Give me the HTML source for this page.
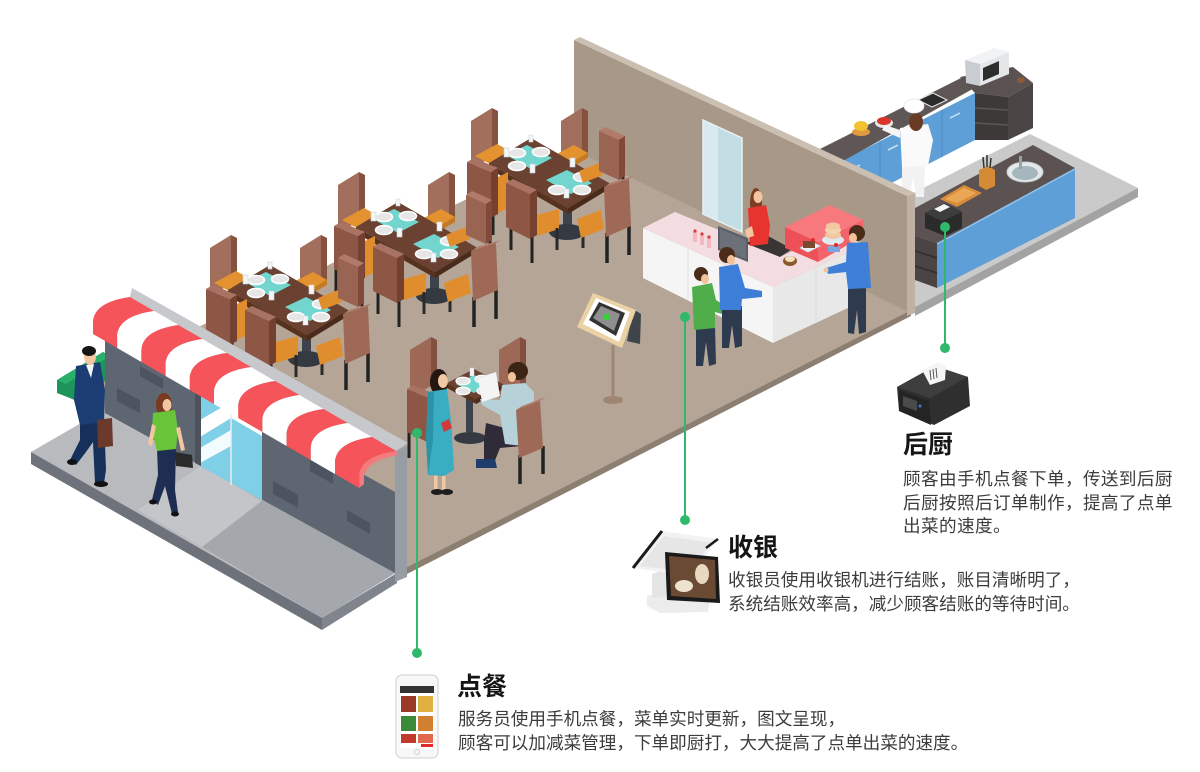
<!DOCTYPE html>
<html><head><meta charset="utf-8">
<style>
html,body{margin:0;padding:0;background:#fff;}
#wrap{position:relative;width:1200px;height:772px;overflow:hidden;background:#fff;}
svg{position:absolute;left:0;top:0;}
.t{position:absolute;font-family:"Liberation Sans","Noto Sans CJK SC",sans-serif;white-space:nowrap;}
.h{font-size:25px;line-height:25px;font-weight:700;color:#151515;}
.d{font-size:17.6px;line-height:23.5px;color:#3c3c3c;}
</style></head>
<body><div id="wrap">
<svg width="1200" height="772" viewBox="0 0 1200 772" xmlns="http://www.w3.org/2000/svg">
<defs>
<g id="ts">
  <!-- back-left chair -->
  <polygon points="210,248 231,235 231,284 210,296" fill="#a36f5d"/>
  <polygon points="231,235 237,238 237,281 231,284" fill="#86523f"/>
  <polygon points="214,283 236,271 251,279 229,291" fill="#e3922f"/>
  <polygon points="229,291 251,279 251,284 229,296" fill="#c47a22"/>
  <!-- back-right chair -->
  <polygon points="300,248 321,235 321,284 300,296" fill="#a36f5d"/>
  <polygon points="321,235 327,238 327,281 321,284" fill="#86523f"/>
  <polygon points="292,283 313,272 327,280 306,292" fill="#e3922f"/>
  <polygon points="306,292 327,280 327,285 306,297" fill="#c47a22"/>
  <!-- table -->
  <rect x="302" y="338" width="9" height="18" fill="#3d434c"/>
  <ellipse cx="306" cy="359" rx="18" ry="8" fill="#353a42"/>
  <polygon points="228,290 270,265 348,310 307,335" fill="#6b4131"/>
  <polygon points="228,290 307,335 307,341 228,296" fill="#57331f"/>
  <polygon points="307,335 348,310 348,316 307,341" fill="#4a2b1b"/>
  <polygon points="245,282 266,272 291,285 270,296" fill="#72d6cf"/>
  <polygon points="285,307 306,297 331,310 310,321" fill="#72d6cf"/>
  <g fill="#e6e6e6" stroke="#fff" stroke-width="1.5">
    <ellipse cx="256" cy="280" rx="8.5" ry="4.5"/>
    <ellipse cx="280" cy="279" rx="8.5" ry="4.5"/>
    <ellipse cx="256" cy="293" rx="8.5" ry="4.5"/>
    <ellipse cx="321" cy="304" rx="8.5" ry="4.5"/>
    <ellipse cx="296" cy="317" rx="8.5" ry="4.5"/>
    <ellipse cx="321" cy="317" rx="8.5" ry="4.5"/>
  </g>
  <g fill="#f6f6f6" stroke="#c9d2de" stroke-width="0.6">
    <rect x="243" y="275" width="5" height="9"/>
    <rect x="269" y="291" width="5" height="9"/>
    <rect x="309" y="285" width="5" height="9"/>
    <rect x="303" y="316" width="5" height="9"/>
    <rect x="268" y="262" width="4" height="7"/>
  </g>
  <!-- left chair -->
  <line x1="208" y1="328" x2="208" y2="355" stroke="#222" stroke-width="3"/>
  <line x1="232" y1="340" x2="232" y2="362" stroke="#222" stroke-width="3"/>
  <polygon points="237,304 247,299 247,335 237,340" fill="#e08d2e"/>
  <polygon points="206,289 213,285 237,295 230,299" fill="#a87362"/>
  <polygon points="206,289 230,299 230,345 206,332" fill="#8d5645"/>
  <polygon points="230,299 237,295 237,341 230,345" fill="#74402f"/>
  <!-- front-middle chair -->
  <polygon points="276,342 298,336 298,356 276,363" fill="#e08d2e"/>
  <line x1="296" y1="355" x2="296" y2="377" stroke="#2a2a2a" stroke-width="3"/>
  <line x1="322" y1="350" x2="322" y2="375" stroke="#2a2a2a" stroke-width="3"/>
  <line x1="250" y1="350" x2="250" y2="377" stroke="#222" stroke-width="3"/>
  <line x1="271" y1="362" x2="271" y2="390" stroke="#222" stroke-width="3"/>
  <polygon points="245,310 252,306 276,317 269,321" fill="#a87362"/>
  <polygon points="245,310 269,321 269,366 245,354" fill="#8d5645"/>
  <polygon points="269,321 276,317 276,362 269,366" fill="#74402f"/>
  <!-- right-middle chair -->
  <polygon points="318,298 338,290 342,302 322,310" fill="#e08d2e"/>
  <line x1="362" y1="300" x2="362" y2="320" stroke="#2a2a2a" stroke-width="3"/>
  <polygon points="338,258 344,254 364,263 358,267" fill="#b07b69"/>
  <polygon points="338,258 358,267 358,307 338,298" fill="#9a6453"/>
  <polygon points="358,267 364,263 364,303 358,307" fill="#80493a"/>
  <!-- right-front chair -->
  <polygon points="316,346 340,337 343,356 320,365" fill="#e08d2e"/>
  <line x1="346" y1="360" x2="346" y2="390" stroke="#222" stroke-width="3.5"/>
  <line x1="368" y1="350" x2="368" y2="382" stroke="#222" stroke-width="3.5"/>
  <polygon points="343,314 349,310 373,303 368,306" fill="#b27d6a"/>
  <polygon points="343,314 368,306 370,353 345,364" fill="#9e6a57"/>
</g>
</defs>

<!-- ============ KITCHEN ============ -->
<polygon points="915,307 1138,188 1030,134 840,230 915,268" fill="#cacaca"/>
<polygon points="915,307 1138,188 1138,197 915,316" fill="#a3a3a3"/>
<!-- back counter -->
<polygon points="843,160 975,93 975,140 843,208" fill="#5e9fd7"/>
<g stroke="#4d8bc4" stroke-width="1" fill="none">
  <line x1="880" y1="141" x2="880" y2="189"/>
  <line x1="910" y1="126" x2="910" y2="174"/>
  <line x1="942" y1="110" x2="942" y2="157"/>
</g>
<g stroke="#cfe3f5" stroke-width="1.5">
  <line x1="850" y1="170" x2="860" y2="165"/>
  <line x1="888" y1="150" x2="898" y2="145"/>
  <line x1="918" y1="135" x2="928" y2="130"/>
  <line x1="950" y1="118" x2="960" y2="113"/>
</g>
<polygon points="818,150 963,77 978,86 843,161" fill="#5f5756"/>
<polygon points="960,77 1013,67 1033,83 1008,97 975,93" fill="#5a5252"/>
<polygon points="975,93 1008,97 1008,140 975,140" fill="#3e3939"/>
<g stroke="#5c5757" stroke-width="1.5"><line x1="975" y1="108" x2="1008" y2="110"/><line x1="975" y1="123" x2="1008" y2="125"/></g>
<polygon points="1008,97 1033,83 1033,128 1008,140" fill="#4b4545"/>
<!-- microwave -->
<polygon points="965,60 994,48 1009,52 980,64" fill="#f2f3f4"/>
<polygon points="965,60 980,64 980,86 966,83" fill="#c9cdd2"/>
<polygon points="980,64 1009,52 1009,74 980,86" fill="#e4e6e8"/>
<polygon points="983,68 999,61 999,74 983,81" fill="#2e2e2e"/>
<ellipse cx="1021" cy="80" rx="4" ry="3" fill="#8a5a3a"/>
<!-- cooktop -->
<polygon points="918,100 933,93 947,100 932,107" fill="#2a2a2a" stroke="#eee" stroke-width="1"/>
<!-- fruits -->
<ellipse cx="861" cy="132" rx="9" ry="4" fill="#e09a40"/>
<ellipse cx="861" cy="126" rx="7" ry="5" fill="#f2c230"/>
<ellipse cx="884" cy="123" rx="9" ry="5" fill="#e8e8e8"/>
<ellipse cx="884" cy="121" rx="7" ry="4" fill="#d8362a"/>
<!-- chef -->
<polygon points="902,162 925,160 924,197 916,197 913,177 910,197 902,197" fill="#f2f2f2"/>
<polygon points="900,128 928,124 933,140 928,166 902,167" fill="#fafafa"/>
<polygon points="900,130 885,125 882,130 900,138" fill="#f5f5f5"/>
<ellipse cx="916" cy="122" rx="7" ry="9" fill="#6a3b24"/>
<ellipse cx="914" cy="106" rx="10" ry="7" fill="#ffffff" stroke="#e4e4e4" stroke-width="0.8"/>
<!-- island -->
<polygon points="915,208 1033,145 1075,168 937,243 915,236" fill="#5b5251"/>
<polygon points="937,243 1075,168 1075,218 937,288" fill="#5e9fd7"/>
<line x1="937" y1="244" x2="1075" y2="169" stroke="#8ec0ea" stroke-width="1.5"/>
<polygon points="915,236 937,243 937,288 915,280" fill="#4a4444"/>
<g stroke="#332e2e" stroke-width="1.5"><line x1="915" y1="251" x2="937" y2="258"/><line x1="915" y1="266" x2="937" y2="273"/></g>
<polygon points="940,199 964,185 982,193 957,207" fill="#d98d3a"/>
<polygon points="945,199 964,188 976,193 957,203" fill="#eaa856"/>
<polygon points="979,170 988,166 995,170 995,186 986,190 979,186" fill="#d58b35"/>
<g stroke="#333" stroke-width="1.5"><line x1="983" y1="157" x2="984" y2="168"/><line x1="987" y1="155" x2="987" y2="167"/><line x1="991" y1="158" x2="990" y2="168"/></g>
<ellipse cx="1025" cy="172" rx="18" ry="10" fill="#e3e8ea" stroke="#c5cccf" stroke-width="1"/>
<ellipse cx="1025" cy="173" rx="13" ry="7" fill="#a5b6bd"/>
<rect x="1019" y="156" width="3" height="13" fill="#9aa2a6"/>
<!-- printer on island -->
<polygon points="925,213 945,203 962,212 962,228 945,236 925,228" fill="#2b2b2b"/>
<polygon points="925,213 945,203 962,212 942,221" fill="#3d3d3d"/>
<polygon points="934,209 944,204 950,207 940,212" fill="#f5f5f5"/>

<!-- ============ RESTAURANT FLOOR & WALL ============ -->
<polygon points="60,393 574,148 911,310 407,567" fill="#b4a596"/>
<polygon points="407,567 911,310 911,316 407,574" fill="#8c7f72"/>
<polygon points="574,40 907,196 907,311 574,150" fill="#a79888"/>
<polygon points="574,40 907,196 915,193 580,37" fill="#cbbfb2"/>
<polygon points="907,196 915,193 915,313 907,316" fill="#bfb2a4"/>
<!-- window -->
<polygon points="703,120 742,138 742,232 703,214" fill="#c3dde5"/>
<polygon points="703,120 718,127 718,221 703,214" fill="#d8eaef"/>
<polygon points="703,120 742,138 742,232 703,214" fill="none" stroke="#e6f1f4" stroke-width="1.5"/>

<!-- ============ COUNTER ============ -->
<polygon points="643,228 773,287 773,343 643,278" fill="#f5f5f5"/>
<polygon points="773,287 865,244 865,300 773,343" fill="#e8e8e8"/>
<g stroke="#dedede" stroke-width="1"><line x1="688" y1="249" x2="688" y2="299"/><line x1="816" y1="267" x2="816" y2="323"/></g>
<polygon points="643,228 675,212 782,256 830,232 865,244 773,287" fill="#f3dde0"/>
<polygon points="745,243 768,236 792,249 780,257" fill="#3a3535"/>
<!-- red display -->
<polygon points="785,227 785,248 818,262 818,242" fill="#ee5058"/>
<polygon points="818,242 863,220 863,236 818,262" fill="#f2646a"/>
<polygon points="785,227 830,205 863,220 818,242" fill="#f7797e"/>
<!-- cakes -->
<polygon points="800,248 812,242 820,246 808,252" fill="#eaf1f6" stroke="#cfe0ea" stroke-width="0.8"/>
<rect x="803" y="241" width="12" height="7" fill="#7a4a30"/>
<circle cx="813" cy="240" r="2" fill="#e02a2a"/>
<ellipse cx="833" cy="240" rx="11" ry="5" fill="#dfe9f2"/>
<ellipse cx="833" cy="235" rx="8" ry="4" fill="#f0c9a0"/>
<ellipse cx="833" cy="230" rx="8" ry="4" fill="#f4d4b0"/>
<ellipse cx="833" cy="226" rx="7" ry="3.5" fill="#f0c9a0"/>
<rect x="828" y="246" width="12" height="6" fill="#7aa7e0"/>
<circle cx="836" cy="245" r="2" fill="#e02a2a"/>
<ellipse cx="790" cy="261" rx="7" ry="5" fill="#8a5a2a"/>
<ellipse cx="790" cy="259" rx="5" ry="3" fill="#f2e2c0"/>
<!-- cups -->
<g fill="#f4b8c0"><rect x="693" y="232" width="4" height="10"/><rect x="700" y="235" width="4" height="10"/><rect x="707" y="238" width="4" height="10"/></g>
<g fill="#e03a3a"><circle cx="695" cy="231" r="1.6"/><circle cx="702" cy="234" r="1.6"/><circle cx="709" cy="237" r="1.6"/></g>
<!-- cashier -->
<ellipse cx="756" cy="203" rx="6" ry="15" fill="#7a3f22"/>
<ellipse cx="758" cy="197" rx="4.5" ry="6" fill="#f3c5a0"/>
<polygon points="748,208 766,205 770,225 768,244 750,246" fill="#e8342e"/>
<polygon points="745,230 752,226 754,236 747,238" fill="#f3c5a0"/>
<!-- monitor -->
<polygon points="718,226 748,238 748,262 718,250" fill="#5b6068"/>
<polygon points="720,229 746,240 746,259 720,248" fill="#6c7179"/>
<!-- green man -->
<ellipse cx="701" cy="274" rx="7" ry="7" fill="#4a2c18"/>
<ellipse cx="705" cy="279" rx="4" ry="5" fill="#f2c29a"/>
<polygon points="696,327 715,326 716,364 709,366 706,342 703,366 696,366" fill="#2e3b4f"/>
<polygon points="692,287 712,283 716,300 733,311 733,317 715,312 715,328 694,330" fill="#4fae4a"/>
<!-- blue man -->
<ellipse cx="727" cy="255" rx="8" ry="8" fill="#4a2c18"/>
<ellipse cx="731" cy="260" rx="4" ry="5" fill="#f2c29a"/>
<polygon points="722,307 742,306 742,346 735,348 732,325 729,348 722,348" fill="#2e3b4f"/>
<polygon points="719,267 738,264 745,288 762,291 762,297 742,299 741,310 720,310" fill="#3d7fd8"/>
<!-- right man -->
<ellipse cx="857" cy="233" rx="8" ry="8" fill="#4a2c18"/>
<ellipse cx="853" cy="238" rx="4" ry="5" fill="#f2c29a"/>
<polygon points="848,287 866,287 866,332 859,334 857,310 854,334 848,333" fill="#2e3b4f"/>
<polygon points="847,243 868,242 871,288 848,289 846,272 828,274 826,268 846,262" fill="#3f7fd8"/>
<circle cx="826" cy="270" r="2.5" fill="#f2c29a"/>

<!-- ============ TABLES ============ -->
<use href="#ts" transform="translate(261,-127)"/>
<use href="#ts" transform="translate(128,-63)"/>
<use href="#ts"/>

<!-- QR sign -->
<line x1="613" y1="345" x2="613" y2="398" stroke="#a08670" stroke-width="3"/>
<ellipse cx="613" cy="400" rx="10" ry="4" fill="#a08670"/>
<polygon points="633,309 641,314 640,344 627,341" fill="#3f444b"/>
<polygon points="577,327 593,293 636,310 622,348" fill="#ead2a5"/>
<polygon points="583,324 596,298 630,312 619,342" fill="#ffffff"/>
<polygon points="589,320 599,302 625,313 616,336" fill="#333"/>
<polygon points="593,318 601,306 620,314 614,331" fill="#fff" opacity="0.45"/>
<rect x="603" y="314" width="7" height="6" fill="#3ccf3c"/>

<!-- couple table -->
<polygon points="410,350 431,337 431,386 410,398" fill="#9d6956"/>
<polygon points="431,337 437,340 437,383 431,386" fill="#83503f"/>
<polygon points="499,350 520,337 520,386 499,398" fill="#9d6956"/>
<polygon points="520,337 526,340 526,383 520,386" fill="#83503f"/>
<rect x="466" y="398" width="7" height="34" fill="#3d434c"/>
<ellipse cx="470" cy="438" rx="16" ry="6" fill="#353a42"/>
<polygon points="447,383 474,369 503,384 476,399" fill="#6b4131"/>
<polygon points="447,383 476,399 476,404 447,388" fill="#57331f"/>
<polygon points="476,399 503,384 503,389 476,404" fill="#4a2b1b"/>
<polygon points="456,384 474,375 492,384 474,393" fill="#72d6cf"/>
<g fill="#e6e6e6" stroke="#fff" stroke-width="1.2">
<ellipse cx="463" cy="381" rx="7" ry="3.8"/><ellipse cx="482" cy="379" rx="7" ry="3.8"/><ellipse cx="463" cy="391" rx="7" ry="3.8"/><ellipse cx="484" cy="391" rx="7" ry="3.8"/>
</g>
<rect x="470" y="368" width="4" height="8" fill="#f5f5f5" stroke="#c9d2de" stroke-width="0.5"/>
<!-- left chair -->
<line x1="409" y1="430" x2="409" y2="458" stroke="#222" stroke-width="3"/>
<polygon points="407,389 413,385 437,395 431,399" fill="#a87362"/>
<polygon points="407,389 431,399 431,444 407,432" fill="#8d5645"/>
<polygon points="431,399 437,395 437,440 431,444" fill="#74402f"/>
<!-- man -->
<polygon points="486,423 520,432 522,446 500,448 494,463 484,463 484,440" fill="#2f2b38"/>
<polygon points="476,459 495,459 497,468 476,468" fill="#1f3d6b"/>
<polygon points="502,385 525,383 534,392 533,430 524,446 505,444 500,415 482,405 480,399 500,400" fill="#b7d1d9"/>
<ellipse cx="518" cy="371" rx="10" ry="9" fill="#3b2414"/>
<ellipse cx="512" cy="377" rx="4" ry="5" fill="#f2c29a"/>
<polygon points="478,378 496,372 500,396 482,402" fill="#f4f4f4"/>
<!-- right front chair -->
<line x1="520" y1="455" x2="520" y2="484" stroke="#222" stroke-width="3.5"/>
<line x1="543" y1="446" x2="543" y2="474" stroke="#222" stroke-width="3.5"/>
<polygon points="516,410 522,406 546,397 540,401" fill="#b27d6a"/>
<polygon points="516,410 540,401 543,448 519,458" fill="#9e6a57"/>
<!-- woman -->
<rect x="434" y="470" width="3.5" height="20" fill="#f2c7a3"/>
<rect x="442" y="470" width="3.5" height="20" fill="#f2c7a3"/>
<ellipse cx="437" cy="492" rx="6" ry="3" fill="#1d1d1d"/>
<ellipse cx="447" cy="492" rx="6" ry="3" fill="#1d1d1d"/>
<ellipse cx="439" cy="382" rx="9" ry="13" fill="#241712"/>
<ellipse cx="443" cy="381" rx="5" ry="7" fill="#f2c7a3"/>
<polygon points="428,392 447,389 451,420 454,470 444,476 428,475 426,440" fill="#39adc1"/>
<polygon points="428,392 434,391 433,440 428,475 426,440" fill="#2b93a8"/>
<polygon points="441,423 449,419 452,428 444,432" fill="#d23a3a"/>

<!-- ============ STOREFRONT ============ -->
<polygon points="31,452 107,408 397,572 322,618" fill="#b8babd"/>
<polygon points="138,510 202,465 262,502 202,547" fill="#c4c5c8"/>
<polygon points="202,547 263,500 397,572 322,618" fill="#a4a7ac"/>
<polygon points="31,452 322,618 322,630 31,464" fill="#6e737b"/>
<polygon points="322,618 397,573 397,583 322,630" fill="#80858d"/>
<!-- planter -->
<polygon points="57,380 103,352 110,356 110,378 75,400 57,393" fill="#1d955a"/>
<polygon points="57,380 103,352 110,356 66,384" fill="#2bb06a"/>
<!-- wall -->
<polygon points="105,330 395,492 395,573 105,413" fill="#5e6671"/>
<g fill="#4d5460">
<polygon points="117,388 140,400 140,413 117,401"/>
<polygon points="140,366 163,379 163,389 140,376"/>
<polygon points="273,481 298,495 298,508 273,494"/>
<polygon points="310,460 333,473 333,484 310,471"/>
<polygon points="347,510 370,523 370,534 347,521"/>
</g>
<polygon points="200,383 262,418 262,500 200,466" fill="#7fcfe7"/>
<polygon points="200,420 231,402 231,418 200,437" fill="#ffffff"/>
<polygon points="200,448 231,430 231,446 200,463" fill="#ffffff" opacity="0.9"/>
<polygon points="231,402 262,420 262,436 231,418" fill="#ffffff"/>
<line x1="231" y1="410" x2="231" y2="485" stroke="#e9eef2" stroke-width="1.5"/>
<polygon points="195,380 201,383 201,466 195,463" fill="#4b525c"/>
<polygon points="395,452 407,446 407,577 395,582" fill="#979da4"/>
<polygon points="132,288 408,443 396,451 130,297" fill="#c6c8cb"/>
<!-- awning -->
<g>
<path d="M130,297 L154.2,311 Q119.2,316 117.2,335 L117.2,348 L93,334 L93,321 Q95,302 130,297Z" fill="#f4545a"/>
<path d="M154.2,311 L178.4,325 Q143.4,330 141.4,349 L141.4,362 L117.2,348 L117.2,335 Q119.2,316 154.2,311Z" fill="#ffffff"/>
<path d="M178.4,325 L202.6,339 Q167.6,344 165.6,363 L165.6,376 L141.4,362 L141.4,349 Q143.4,330 178.4,325Z" fill="#f4545a"/>
<path d="M202.6,339 L226.8,353 Q191.8,358 189.8,377 L189.8,390 L165.6,376 L165.6,363 Q167.6,344 202.6,339Z" fill="#ffffff"/>
<path d="M226.8,353 L251,367 Q216,372 214,391 L214,404 L189.8,390 L189.8,377 Q191.8,358 226.8,353Z" fill="#f4545a"/>
<path d="M251,367 L275.2,381 Q240.2,386 238.2,405 L238.2,418 L214,404 L214,391 Q216,372 251,367Z" fill="#ffffff"/>
<path d="M275.2,381 L299.4,395 Q264.4,400 262.4,419 L262.4,432 L238.2,418 L238.2,405 Q240.2,386 275.2,381Z" fill="#f4545a"/>
<path d="M299.4,395 L323.6,409 Q288.6,414 286.6,433 L286.6,446 L262.4,432 L262.4,419 Q264.4,400 299.4,395Z" fill="#ffffff"/>
<path d="M323.6,409 L347.8,423 Q312.8,428 310.8,447 L310.8,460 L286.6,446 L286.6,433 Q288.6,414 323.6,409Z" fill="#f4545a"/>
<path d="M347.8,423 L372,437 Q337,442 335,461 L335,474 L310.8,460 L310.8,447 Q312.8,428 347.8,423Z" fill="#ffffff"/>
<path d="M372,437 L396.2,451 Q361.2,456 359.2,475 L359.2,488 L335,474 L335,461 Q337,442 372,437Z" fill="#f4545a"/>
<path d="M396.2,451 Q361.2,456 359.2,475 L359.2,488 L364,484 L364,476 Q368,460 398,455Z" fill="#f47a7e"/>
</g>
<!-- man -->
<polygon points="80,420 104,418 106,470 104,483 95,483 93,442 86,452 76,465 70,460 80,440" fill="#16305c"/>
<ellipse cx="72" cy="462" rx="5" ry="3" fill="#111"/>
<ellipse cx="101" cy="484" rx="7" ry="3" fill="#111"/>
<polygon points="76,366 100,362 105,390 104,422 80,425 74,400" fill="#1c3d73"/>
<polygon points="86,365 94,364 91,378" fill="#f4f4f4"/>
<ellipse cx="90" cy="357" rx="6" ry="8" fill="#f2c6a0"/>
<ellipse cx="89" cy="351" rx="7" ry="5" fill="#151515"/>
<polygon points="97,420 112,418 113,446 98,448" fill="#6b3a2a"/>
<!-- woman -->
<polygon points="157,448 176,447 175,490 178,512 172,514 165,486 158,505 152,500 158,475" fill="#1e2d52"/>
<ellipse cx="175" cy="514" rx="4" ry="2.5" fill="#111"/>
<ellipse cx="153" cy="502" rx="4" ry="2.5" fill="#111"/>
<ellipse cx="164" cy="405" rx="8" ry="12" fill="#7a3a20"/>
<ellipse cx="167" cy="405" rx="4.5" ry="6" fill="#f2c6a0"/>
<polygon points="153,413 175,410 178,430 176,449 157,451 152,430" fill="#69c43a"/>
<polygon points="152,424 156,426 152,446 148,444" fill="#f2c6a0"/>
<polygon points="176,428 180,427 185,450 181,451" fill="#f2c6a0"/>
<polygon points="175,452 192,455 193,468 176,466" fill="#2a2a2a"/>

<!-- ============ ICONS ============ -->
<!-- printer -->
<polygon points="897,387 935,366 968,377 970,406 934,425 899,411" fill="#2f2f2f"/>
<polygon points="897,387 935,366 968,377 930,398" fill="#3e3e3e"/>
<polygon points="899,390 929,401 931,425 899,411" fill="#242424"/>
<polygon points="903,396 917,401 917,411 903,406" fill="#4a4a4a"/>
<polygon points="922,370 938,362 946,366 945,380 930,385" fill="#f5f5f5"/>
<g stroke="#555" stroke-width="1"><line x1="930" y1="370" x2="931" y2="380"/><line x1="933" y1="369" x2="934" y2="379"/><line x1="936" y1="368" x2="937" y2="378"/></g>
<circle cx="920" cy="406" r="1.5" fill="#3a7bd5"/>
<!-- POS -->
<polygon points="647,596 668,591 710,600 708,612 660,613 647,606" fill="#ececec"/>
<polygon points="652,574 668,568 668,596 652,598" fill="#e4e4e4"/>
<polygon points="633,568 662,531 718,539 690,576" fill="#f2f2f2"/>
<polygon points="640,566 664,536 712,543 688,572" fill="#e6e6e6"/>
<line x1="633" y1="568" x2="662" y2="531" stroke="#1a1a1a" stroke-width="3"/>
<line x1="706" y1="548" x2="718" y2="539" stroke="#1a1a1a" stroke-width="2.5"/>
<polygon points="665,552 718,557 720,603 667,600" fill="#1a1a1a"/>
<polygon points="669,556 715,560 716,599 671,596" fill="#6b4a34"/>
<ellipse cx="702" cy="574" rx="7" ry="10" fill="#e8d8c0"/>
<ellipse cx="684" cy="586" rx="9" ry="6" fill="#efe3d0"/>
<!-- phone -->
<rect x="396" y="675" width="42" height="83" rx="6" fill="#f8f8f8" stroke="#d2cfcb" stroke-width="1"/>
<rect x="400" y="686" width="34" height="62" fill="#fff"/>
<rect x="400" y="686" width="34" height="7" fill="#333"/>
<rect x="401" y="696" width="15" height="16" fill="#9a3a26"/>
<rect x="418" y="696" width="15" height="16" fill="#e0b040"/>
<rect x="401" y="716" width="15" height="15" fill="#3a8a3a"/>
<rect x="418" y="716" width="15" height="15" fill="#d08030"/>
<rect x="401" y="734" width="15" height="9" fill="#c0392b"/>
<rect x="418" y="734" width="15" height="9" fill="#e26a4a"/>
<rect x="421" y="744" width="12" height="3" fill="#e02a2a"/>
<circle cx="417" cy="752" r="2.5" fill="none" stroke="#ccc" stroke-width="1"/>

<!-- ============ CONNECTORS ============ -->
<g stroke="#2fb96b" stroke-width="2">
<line x1="945" y1="227" x2="945" y2="348"/>
<line x1="685" y1="317" x2="685" y2="520"/>
<line x1="417" y1="433" x2="417" y2="653"/>
</g>
<g fill="#2fb96b">
<circle cx="945" cy="227" r="5"/><circle cx="945" cy="348" r="5"/>
<circle cx="685" cy="317" r="5"/><circle cx="685" cy="520" r="5"/>
<circle cx="417" cy="433" r="5"/><circle cx="417" cy="653" r="5"/>
</g>
</svg>

<div class="t h" style="left:903px;top:433px;">后厨</div>
<div class="t d" style="left:903px;top:468px;letter-spacing:0.4px;">顾客由手机点餐下单，传送到后厨<br>后厨按照后订单制作，提高了点单<br>出菜的速度。</div>

<div class="t h" style="left:728px;top:536px;">收银</div>
<div class="t d" style="left:728px;top:568px;line-height:24px;">收银员使用收银机进行结账，账目清晰明了，<br>系统结账效率高，减少顾客结账的等待时间。</div>

<div class="t h" style="left:457px;top:675px;">点餐</div>
<div class="t d" style="left:458px;top:708px;">服务员使用手机点餐，菜单实时更新，图文呈现，<br>顾客可以加减菜管理，下单即厨打，大大提高了点单出菜的速度。</div>
</div></body></html>
